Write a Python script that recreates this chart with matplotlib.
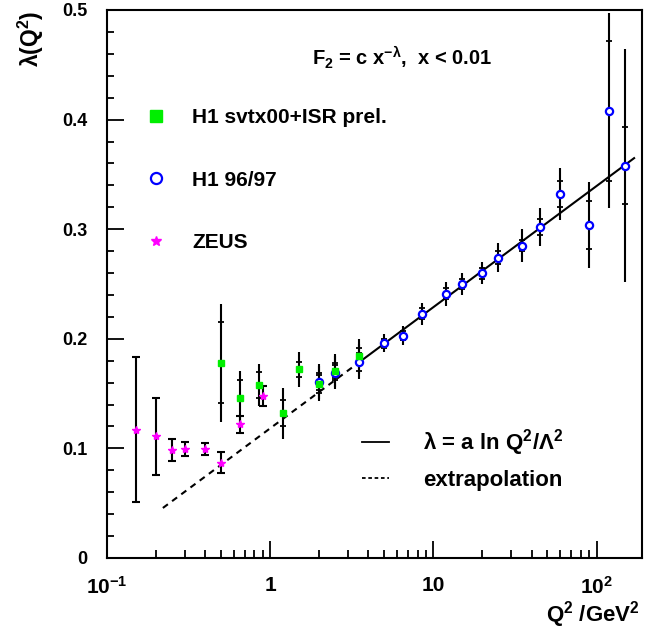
#!/usr/bin/env python3
import numpy as np
import matplotlib
matplotlib.use('Agg')
import matplotlib.pyplot as plt
from matplotlib.lines import Line2D
from matplotlib.ticker import FixedLocator, FuncFormatter, MultipleLocator

plt.rcParams['font.family'] = ['Liberation Sans', 'DejaVu Sans']
plt.rcParams['font.weight'] = 'bold'
plt.rcParams['mathtext.fontset'] = 'custom'
plt.rcParams['mathtext.rm'] = 'Liberation Sans:bold'
plt.rcParams['mathtext.it'] = 'Liberation Sans:bold'
plt.rcParams['mathtext.bf'] = 'Liberation Sans:bold'
plt.rcParams['mathtext.default'] = 'rm'

# H1 svtx00+ISR prel. (total and statistical errors)
svtx_q2 = [0.5, 0.65, 0.85, 1.2, 1.5, 2.0, 2.5, 3.5]
svtx_lam = [0.178, 0.146, 0.158, 0.132, 0.172, 0.159, 0.171, 0.184]
svtx_tot = [0.054, 0.025, 0.019, 0.023, 0.016, 0.016, 0.015, 0.016]
svtx_stat = [0.037, 0.016, 0.012, 0.012, 0.007, 0.008, 0.007, 0.008]

# H1 96/97
h1_q2 = [2.0, 2.5, 3.5, 5.0, 6.5, 8.5, 12, 15, 20, 25, 35, 45, 60, 90, 120, 150]
h1_lam = [0.161, 0.169, 0.179, 0.196, 0.203, 0.223, 0.241, 0.250, 0.260,
          0.274, 0.285, 0.302, 0.332, 0.304, 0.408, 0.358]
h1_tot = [0.016, 0.015, 0.016, 0.008, 0.009, 0.010, 0.011, 0.010, 0.010,
          0.013, 0.015, 0.017, 0.024, 0.039, 0.089, 0.106]
h1_stat = [0.008, 0.007, 0.008, 0.004, 0.004, 0.005, 0.005, 0.005, 0.005,
           0.006, 0.005, 0.007, 0.012, 0.022, 0.064, 0.035]

# ZEUS
zeus_q2 = [0.15, 0.2, 0.25, 0.3, 0.4, 0.5, 0.65, 0.9]
zeus_lam = [0.117, 0.111, 0.0985, 0.0994, 0.0994, 0.087, 0.122, 0.148]
zeus_err = [0.066, 0.035, 0.010, 0.0065, 0.0055, 0.0095, 0.008, 0.009]

# fit lambda = a ln(Q2 / Lambda2)
fit_a = 0.048
fit_lambda2 = 0.085
fit_range = (3.5, 170)
extrap_range = (0.22, 3.5)

W, H = 645, 630
fig = plt.figure(figsize=(W / 100, H / 100), dpi=100)
ax = fig.add_axes([107 / W, 1 - 558 / H, (642 - 107) / W, (558 - 10) / H])

# fit line and extrapolation
q = np.logspace(np.log10(fit_range[0]), np.log10(fit_range[1]), 100)
ax.plot(q, fit_a * np.log(q / fit_lambda2), color='black', lw=1.5)
q = np.logspace(np.log10(extrap_range[0]), np.log10(extrap_range[1]), 100)
ax.plot(q, fit_a * np.log(q / fit_lambda2), color='black', lw=1.5,
        ls=(0, (3, 2.5)))


def h1_points(x, y, tot, stat, **kw):
    x, y, tot, stat = map(np.asarray, (x, y, tot, stat))
    ax.errorbar(x, y, yerr=tot, fmt='none', ecolor='black', elinewidth=1.5,
                capsize=0, zorder=3)
    for s in (1, -1):
        ax.plot(x, y + s * stat, ls='none', marker='_', color='black',
                ms=5, mew=1.3, zorder=3)
    ax.plot(x, y, ls='none', zorder=4, **kw)


h1_points(h1_q2, h1_lam, h1_tot, h1_stat, marker='o', ms=5.2,
          mfc='white', mec='#0000ff', mew=1.6)
h1_points(svtx_q2, svtx_lam, svtx_tot, svtx_stat, marker='s', ms=5,
          color='#00ee00')

ax.errorbar(zeus_q2, zeus_lam, yerr=zeus_err, fmt='none', ecolor='black',
            elinewidth=1.5, capsize=3, capthick=1.5, zorder=3)
ax.plot(zeus_q2, zeus_lam, ls='none', marker='*', ms=6, color='#ff00ff',
        zorder=4)

# axes
ax.set_xscale('log')
ax.set_xlim(0.1, 190)
ax.set_ylim(0, 0.5)
ax.xaxis.set_major_locator(FixedLocator([0.1, 1, 10, 100]))
xlab = {0.1: '10$^{-1}$', 1: '1', 10: '10', 100: '10$^{2}$'}
ax.xaxis.set_major_formatter(FuncFormatter(
    lambda v, p: min(xlab.items(), key=lambda kv: abs(np.log10(kv[0]) - np.log10(v)))[1]))
ax.yaxis.set_major_locator(MultipleLocator(0.1))
ax.yaxis.set_minor_locator(MultipleLocator(0.02))
ax.yaxis.set_major_formatter(FuncFormatter(
    lambda v, p: '0' if abs(v) < 1e-9 else '%.1f' % v))
ax.tick_params(axis='both', which='both', direction='in', top=False,
               right=False, width=1.3)
ax.tick_params(axis='x', which='major', length=12, pad=13, labelsize=15)
ax.tick_params(axis='x', which='minor', length=6)
ax.tick_params(axis='y', which='major', length=12, pad=14, labelsize=13)
ax.tick_params(axis='y', which='minor', length=5)
for s in ax.spines.values():
    s.set_linewidth(1.5)

fig.text(640 / W, 1 - 630 / H, 'Q$^{2}$ /GeV$^{2}$', ha='right',
         va='bottom', fontsize=16)
fig.text(31 / W, 1 - 11 / H, '$\\lambda$(Q$^{2}$)', rotation=90, ha='center',
         va='top', fontsize=16.5)
fig.text(402 / W, 1 - 58 / H, 'F$_{2}$ = c x$^{-\\lambda}$,  x < 0.01',
         ha='center', va='center', fontsize=14.5)

# legends
handles = [
    Line2D([], [], ls='none', marker='s', ms=8, color='#00ee00'),
    Line2D([], [], ls='none', marker='o', ms=8, mfc='white', mec='#0000ff',
           mew=1.6),
    Line2D([], [], ls='none', marker='*', ms=7, color='#ff00ff'),
]
labels = ['H1 svtx00+ISR prel.', 'H1 96/97', 'ZEUS']
leg1 = ax.legend(handles, labels, loc='upper left',
                 bbox_to_anchor=(140 / W, 1 - 108 / H),
                 bbox_transform=fig.transFigure, frameon=False,
                 fontsize=15, borderaxespad=0, borderpad=0,
                 handlelength=1.5, handletextpad=1.0, labelspacing=2.1)
ax.add_artist(leg1)

lhandles = [Line2D([], [], color='black', lw=1.3),
            Line2D([], [], color='black', lw=1.3, ls=(0, (2, 1.5)))]
llabels = ['$\\lambda$ = a ln Q$^{2}$/$\\Lambda^{2}$', 'extrapolation']
ax.legend(lhandles, llabels, loc='upper left',
          bbox_to_anchor=(362 / W, 1 - 427 / H),
          bbox_transform=fig.transFigure, frameon=False, fontsize=16,
          borderaxespad=0, borderpad=0, handlelength=1.2,
          handletextpad=1.55, labelspacing=0.55)

fig.savefig('out.png', dpi=100)
